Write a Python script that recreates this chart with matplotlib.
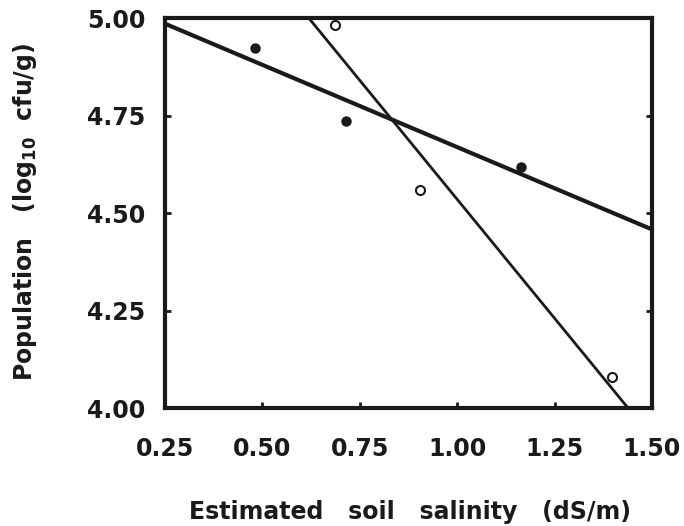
import numpy as np
import matplotlib
matplotlib.use("Agg")
import matplotlib.pyplot as plt

# salinity (dS/m) and population (log10 cfu/g)
filledX = [0.481, 0.715, 1.164]
filledY = [4.923, 4.736, 4.618]
openX = [0.686, 0.905, 1.397]
openY = [4.982, 4.559, 4.079]

xTicks = [0.25, 0.50, 0.75, 1.00, 1.25, 1.50]
yTicks = [4.00, 4.25, 4.50, 4.75, 5.00]

plt.rcParams["font.family"] = "DejaVu Sans"
plt.rcParams["font.weight"] = "bold"
ink = "#1a1a1a"

fig = plt.figure(figsize=(6.84, 5.26), dpi=100)
ax = fig.add_axes([0.2412, 0.2243, 0.712, 0.7414])

# regression lines through each set of points
lineX = np.array([0.25, 1.50])
for xs, ys, lw in [(filledX, filledY, 3.0), (openX, openY, 2.0)]:
    slope, icept = np.polyfit(xs, ys, 1)
    ax.plot(lineX, icept + slope * lineX, color=ink, lw=lw,
            solid_capstyle="butt", zorder=2)

ax.plot(filledX, filledY, "o", color=ink, ms=6.5, zorder=3)
ax.plot(openX, openY, "o", mfc="white", mec=ink, mew=1.5, ms=6.5, zorder=3)

ax.set_xlim(0.25, 1.50)
ax.set_ylim(4.00, 5.00)
ax.set_xticks(xTicks)
ax.set_yticks(yTicks)
ax.set_xticklabels(["%.2f" % t for t in xTicks])
ax.set_yticklabels(["%.2f" % t for t in yTicks])
ax.tick_params(direction="in", length=4, width=2, labelsize=17,
               right=True, colors=ink)
ax.tick_params(axis="x", pad=21)
ax.tick_params(axis="y", pad=14)

for spine in ax.spines.values():
    spine.set_linewidth(3)
    spine.set_color(ink)

fig.text(0.600, 0.0266, "Estimated   soil   salinity   (dS/m)",
         fontsize=17, fontweight="bold", color=ink,
         ha="center", va="center")
fig.text(0.0365, 0.597, r"Population   (log$_{\mathbf{10}}$  cfu/g)",
         fontsize=17, fontweight="bold", color=ink,
         ha="center", va="center", rotation=90)

fig.savefig("out.png", dpi=100)
